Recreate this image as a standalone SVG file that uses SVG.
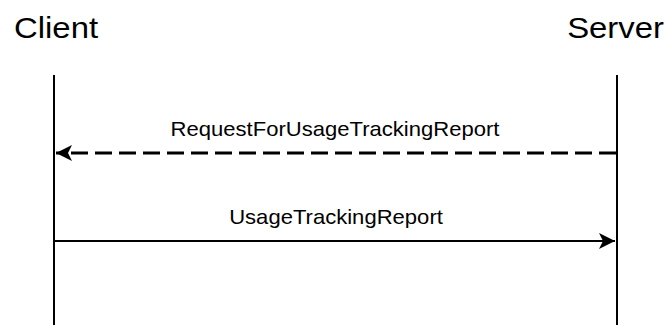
<svg xmlns="http://www.w3.org/2000/svg" width="666" height="325" viewBox="0 0 666 325">
<style>
.t{font-family:"Liberation Sans",Arial,sans-serif;fill:#000}
.h{font-size:29.5px}
.m{font-size:19.7px;text-anchor:middle}
.life{stroke:#000;stroke-width:2;fill:none}
.msg{stroke:#000;stroke-width:2;fill:none}
.dash{stroke-width:3;stroke-dasharray:17 7}
</style>
<defs>
<marker id="ah" viewBox="0 0 10 10" refX="10" refY="5" markerWidth="18" markerHeight="16" markerUnits="userSpaceOnUse" orient="auto">
<path d="M0,0 L10,5 L0,10 L2.5,5 Z" fill="#000"/>
</marker>
</defs>
<g id="client">
<text class="t h" transform="translate(14,38) scale(1.115,1)">Client</text>
<line class="life" x1="54" y1="75" x2="54" y2="325"/>
</g>
<g id="server">
<text class="t h" transform="translate(664,38) scale(1.115,1)" text-anchor="end">Server</text>
<line class="life" x1="617" y1="75" x2="617" y2="325"/>
</g>
<g id="connectors">
<line class="msg dash" x1="616" y1="153" x2="56" y2="153" marker-end="url(#ah)"/>
<text class="t m" transform="translate(335,136) scale(1.12,1)">RequestForUsageTrackingReport</text>
<line class="msg" x1="55" y1="241" x2="615" y2="241" marker-end="url(#ah)"/>
<text class="t m" transform="translate(336,224) scale(1.12,1)">UsageTrackingReport</text>
</g>
</svg>
